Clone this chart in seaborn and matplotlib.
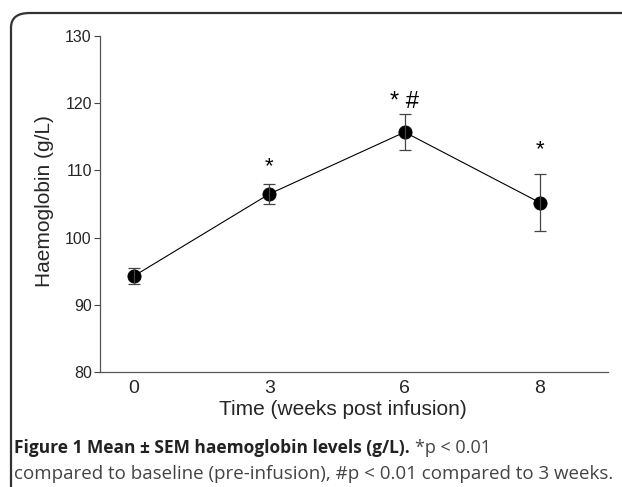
import matplotlib
matplotlib.use("Agg")
import matplotlib.pyplot as plt
from matplotlib.patches import FancyBboxPatch
import seaborn as sns
import pandas as pd

# data
weeks = ["0", "3", "6", "8"]
hb_mean = [94.3, 106.5, 115.7, 105.2]
hb_sem = [1.2, 1.45, 2.65, 4.25]
marks = ["", "*", "* #", "*"]
mark_y = [0, 109.0, 118.5, 111.5]

sns.set_theme(style="ticks")
plt.rcParams["font.family"] = ["Liberation Sans", "DejaVu Sans"]

df = pd.DataFrame({"week": weeks, "hb": hb_mean, "sem": hb_sem})

fig = plt.figure(figsize=(6.22, 4.87), dpi=100)
ax = fig.add_axes([0.161, 0.236, 0.816, 0.690])

# line + markers
sns.pointplot(data=df, x="week", y="hb", color="black", errorbar=None,
              markers="o", markersize=9.5, linewidth=0.8, ax=ax)
ax.errorbar(range(len(weeks)), hb_mean, yerr=hb_sem, fmt="none",
            ecolor="#444444", elinewidth=0.9, capsize=4, capthick=0.9)

# significance marks
for i, m in enumerate(marks):
    if m:
        ax.text(i, mark_y[i], m, ha="center", va="bottom",
                fontsize=17 if "#" in m else 16, color="black")

ax.set_ylim(80, 130)
ax.set_yticks([80, 90, 100, 110, 120, 130])
ax.set_xlim(-0.25, 3.5)
ax.tick_params(axis="y", labelsize=11.5, length=4, width=0.8, color="#444444", pad=2)
ax.tick_params(axis="x", labelsize=14, length=0, pad=6)
ax.set_xlabel("Time (weeks post infusion)", fontsize=15)
ax.set_ylabel("Haemoglobin (g/L)", fontsize=15)
ax.xaxis.set_label_coords(0.478, -0.082)
ax.yaxis.set_label_coords(-0.09, 0.51)
for sp in ["top", "right"]:
    ax.spines[sp].set_visible(False)
for sp in ["left", "bottom"]:
    ax.spines[sp].set_color("#555555")
    ax.spines[sp].set_linewidth(0.9)

# frame round the figure, cut off at right and bottom
frame = FancyBboxPatch((11 / 622, -0.1), 1.1, 1.1 - 13 / 487,
                       boxstyle="round,pad=0,rounding_size=0.03",
                       transform=fig.transFigure, fill=False,
                       edgecolor="#333333", linewidth=1.6, clip_on=False)
fig.patches.append(frame)

# caption
cap_font = ["Open Sans", "DejaVu Sans"]
t1 = fig.text(14 / 622, 1 - 453 / 487, "Figure 1 Mean \u00b1 SEM haemoglobin levels (g/L).",
              fontsize=12.5, fontweight="bold", family=cap_font, color="#222222",
              va="baseline")
fig.canvas.draw()
bb = t1.get_window_extent()
fig.text(bb.x1 / 622 + 0.008, 1 - 453 / 487, "*p < 0.01",
         fontsize=13, family=cap_font, color="#444444", va="baseline")
fig.text(14 / 622, 1 - 479 / 487,
         "compared to baseline (pre-infusion), #p < 0.01 compared to 3 weeks.",
         fontsize=13.5, family=cap_font, color="#444444", va="baseline")

fig.savefig("out.png", dpi=100)
